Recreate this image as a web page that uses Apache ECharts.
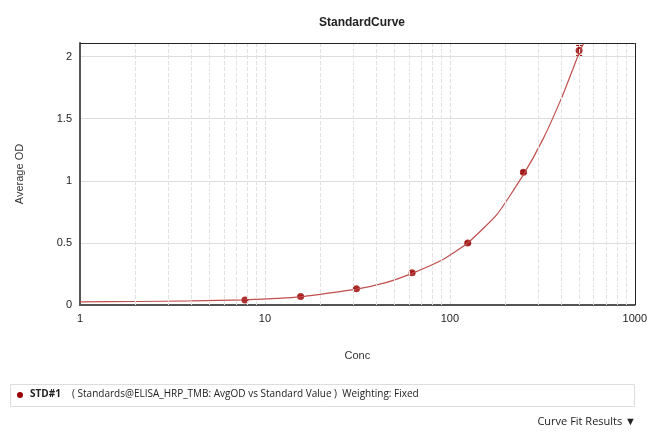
<!DOCTYPE html>
<html>
<head>
<meta charset="utf-8">
<script src="https://cdn.jsdelivr.net/npm/echarts@6/dist/echarts.min.js"></script>
<style>
  body { margin: 0; background: #fff; font-family: "Open Sans", sans-serif; }
  #chart { width: 650px; height: 436px; }
</style>
</head>
<body>
<div id="chart"></div>
<script>
// standards (conc, avg OD)
const stdConc = [7.8, 15.6, 31.25, 62.5, 125, 250, 500];
const stdOD = [0.04, 0.068, 0.13, 0.26, 0.50, 1.07, 2.05];
const stdErr = [0.003, 0.004, 0.005, 0.006, 0.008, 0.01, 0.04];
// fitted curve
const fitConc = [1, 2, 4, 7.8, 15.6, 31.25, 45, 62.5, 90, 125, 180, 250, 320, 400, 460, 500, 530];
const fitOD = [0.025, 0.028, 0.033, 0.042, 0.066, 0.128, 0.18, 0.255, 0.36, 0.50, 0.73, 1.05, 1.34, 1.66, 1.89, 2.03, 2.11];
const minorTicks = [2,3,4,5,6,7,8,9,20,30,40,50,60,70,80,90,200,300,400,500,600,700,800,900];
const red = '#990000';

const chart = echarts.init(document.getElementById('chart'));
chart.setOption({
    animation: false,
    title: { text: 'StandardCurve', left: 357, top: 12, textAlign: 'center',
        textStyle: { fontSize: 12, fontWeight: 'bold', color: '#222' } },
    grid: { left: 80, right: 15, top: 43, bottom: 131 },
    xAxis: {
        type: 'log', min: 1, max: 1000, logBase: 10,
        name: 'Conc', nameLocation: 'middle', nameGap: 45,
        nameTextStyle: { fontSize: 11, color: '#333' },
        axisLine: { lineStyle: { color: '#555', width: 2 } },
        axisTick: { show: false },
        axisLabel: { color: '#222', fontSize: 11, formatter: v => String(Math.round(v)) },
        splitLine: { lineStyle: { color: '#ddd', type: 'dashed' } },
    },
    yAxis: {
        type: 'value', min: 0, max: 2.11, interval: 0.5,
        name: 'Average OD', nameLocation: 'middle', nameGap: 55,
        nameTextStyle: { fontSize: 11, color: '#333' },
        axisLine: { show: true, lineStyle: { color: '#555', width: 2 } },
        axisTick: { show: false },
        axisLabel: { color: '#222', fontSize: 11, showMaxLabel: false,
            formatter: v => String(Math.round(v * 10) / 10) },
        splitLine: { lineStyle: { color: '#ddd' } },
    },
    series: [
        {
            type: 'line', data: [], silent: true,
            markLine: { symbol: 'none', label: { show: false },
                lineStyle: { color: '#e2e2e2', type: 'dashed', width: 1 },
                data: minorTicks.map(v => ({ xAxis: v })) },
        },
        {
            type: 'line', data: [], silent: true,
            markLine: { symbol: 'none', label: { show: false },
                lineStyle: { color: '#222', type: 'solid', width: 1 },
                data: [{ xAxis: 1000 }, { yAxis: 2.11 }] },
        },
        {
            type: 'line', smooth: 0.15, symbol: 'none',
            lineStyle: { color: '#c0504d', width: 1.2 },
            data: fitConc.map((c, i) => [c, fitOD[i]]),
        },
        {
            type: 'custom',
            renderItem: (params, api) => {
                const x = api.coord([api.value(0), 0])[0];
                const y1 = api.coord([api.value(0), api.value(1) - api.value(2)])[1];
                const y2 = api.coord([api.value(0), api.value(1) + api.value(2)])[1];
                return { type: 'group', children: [
                    { type: 'line', shape: { x1: x, y1: y1, x2: x, y2: y2 }, style: { stroke: red, lineWidth: 1 } },
                    { type: 'line', shape: { x1: x - 3, y1: y1, x2: x + 3, y2: y1 }, style: { stroke: red, lineWidth: 1 } },
                    { type: 'line', shape: { x1: x - 3, y1: y2, x2: x + 3, y2: y2 }, style: { stroke: red, lineWidth: 1 } },
                ] };
            },
            data: stdConc.map((c, i) => [c, stdOD[i], stdErr[i]]),
        },
        {
            type: 'scatter', symbolSize: 7, itemStyle: { color: red },
            data: stdConc.map((c, i) => [c, stdOD[i]]),
        },
    ],
    graphic: [
        { type: 'rect', left: 10, top: 384, shape: { width: 624, height: 22 },
          style: { fill: '#fff', stroke: '#ddd' } },
        { type: 'circle', left: 17, top: 392, shape: { r: 3 }, style: { fill: red } },
        { type: 'text', left: 30, top: 389, style: { text: 'STD#1', font: 'bold 10px "Open Sans"', fill: '#222' } },
        { type: 'text', left: 72, top: 389, style: { text: '( Standards@ELISA_HRP_TMB: AvgOD vs Standard Value )  Weighting: Fixed', font: '10px "Open Sans"', fill: '#222' } },
        { type: 'text', right: 14, top: 416, style: { text: 'Curve Fit Results ▼', font: '11px "Open Sans"', fill: '#222' } },
    ],
});
</script>
</body>
</html>
